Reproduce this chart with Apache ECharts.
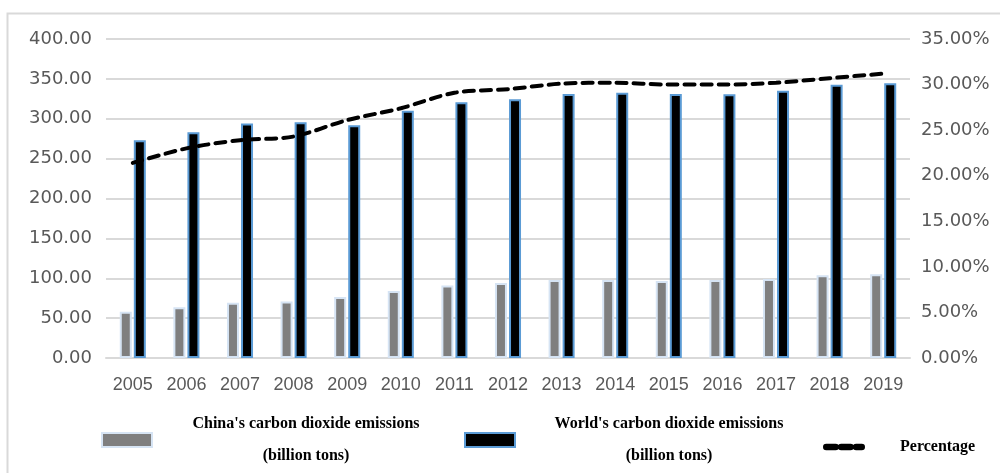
<!DOCTYPE html>
<html>
<head>
<meta charset="utf-8">
<script src="https://cdn.jsdelivr.net/npm/echarts@6/dist/echarts.min.js"></script>
<style>
  html, body { margin: 0; padding: 0; background: #ffffff; }
  #chart { width: 1000px; height: 473px; }
</style>
</head>
<body>
<div id="chart"></div>
<script>
// Carbon dioxide emissions: China vs. world, and China's share
const years = ['2005', '2006', '2007', '2008', '2009', '2010', '2011', '2012', '2013', '2014', '2015', '2016', '2017', '2018', '2019'];
const chinaEmissions = [58, 63.6, 69.4, 71, 76.5, 84, 91, 94, 97.8, 97.8, 96.5, 97.8, 99, 103.7, 105];
const worldEmissions = [273, 283, 294, 295.5, 292, 310, 320.6, 324.4, 331, 332.7, 331, 330.6, 335, 342.7, 344.4];
const sharePercent = [21.4, 23.0, 23.9, 24.3, 26.1, 27.4, 29.1, 29.5, 30.1, 30.2, 30.0, 30.0, 30.2, 30.7, 31.2];

const leftTicks = { min: 0, max: 400, interval: 50 };
const rightTicks = { min: 0, max: 35, interval: 5 };

const nameChina = "China's carbon dioxide emissions (billion tons)";
const nameWorld = "World's carbon dioxide emissions (billion tons)";
const nameShare = 'Percentage';

const labelColor = '#595959';
const gridColor = '#d9d9d9';
const legendFont = { fontFamily: '"Liberation Serif", "Times New Roman", serif', fontWeight: 'bold', fontSize: 16, color: '#000000' };

// three short dashes for the share legend key
const dashIcon = 'path://M2,0h10a2,2 0 0 1 0,7h-10a2,2 0 0 1 0,-7z M18,0h10a2,2 0 0 1 0,7h-10a2,2 0 0 1 0,-7z M34,0h6a2,2 0 0 1 0,7h-6a2,2 0 0 1 0,-7z';

const chart = echarts.init(document.getElementById('chart'), null, { renderer: 'canvas' });

function twoLineLegend(name) {
  const parts = name.split(' (');
  return '{t|' + parts[0] + '}\n{t|(' + parts[1] + '}';
}

chart.setOption({
  backgroundColor: '#ffffff',
  animation: false,
  graphic: [{
    type: 'rect',
    left: 5, top: 11,
    shape: { width: 1100, height: 600 },
    style: { fill: 'none', stroke: gridColor, lineWidth: 2 },
    silent: true, z: -10
  }],
  grid: { left: 106, right: 90, top: 39, bottom: 115, containLabel: false },
  legend: [
    {
      data: [nameChina], left: 96, top: 411, icon: 'rect', itemWidth: 50, itemHeight: 14,
      formatter: twoLineLegend,
      textStyle: { rich: { t: Object.assign({ lineHeight: 32, width: 298, align: 'center' }, legendFont) } }
    },
    {
      data: [nameWorld], left: 459, top: 411, icon: 'rect', itemWidth: 50, itemHeight: 14,
      formatter: twoLineLegend,
      textStyle: { rich: { t: Object.assign({ lineHeight: 32, width: 298, align: 'center' }, legendFont) } }
    },
    {
      data: [{ name: nameShare, icon: dashIcon }], left: 818, top: 434, itemWidth: 42, itemHeight: 7,
      formatter: '{p|' + nameShare + '}',
      itemStyle: { color: '#000000' },
      textStyle: { rich: { p: Object.assign({ padding: [0, 0, 0, 30] }, legendFont) } }
    }
  ],
  xAxis: {
    type: 'category',
    data: years,
    axisLine: { show: true, lineStyle: { color: gridColor, width: 2 } },
    axisTick: { show: false },
    axisLabel: {
      interval: 0, color: labelColor, fontSize: 18, margin: 18,
      fontFamily: '"Liberation Sans", Arial, sans-serif'
    }
  },
  yAxis: [
    {
      type: 'value', min: leftTicks.min, max: leftTicks.max, interval: leftTicks.interval,
      axisLine: { show: false }, axisTick: { show: false },
      splitLine: { lineStyle: { color: gridColor, width: 2 } },
      axisLabel: {
        color: labelColor, fontSize: 18, margin: 14, fontFamily: '"DejaVu Sans", sans-serif',
        formatter: v => v.toFixed(2)
      }
    },
    {
      type: 'value', min: rightTicks.min, max: rightTicks.max, interval: rightTicks.interval,
      axisLine: { show: false }, axisTick: { show: false },
      splitLine: { show: false },
      axisLabel: {
        color: labelColor, fontSize: 18, margin: 11, fontFamily: '"DejaVu Sans", sans-serif',
        formatter: v => v.toFixed(2) + '%'
      }
    }
  ],
  series: [
    {
      name: nameChina, type: 'bar', data: chinaEmissions, yAxisIndex: 0,
      barWidth: 12, barGap: '17%',
      itemStyle: { color: '#7f7f7f', borderColor: '#d6e4f4', borderWidth: 2 }
    },
    {
      name: nameWorld, type: 'bar', data: worldEmissions, yAxisIndex: 0,
      barWidth: 12, barGap: '17%',
      itemStyle: { color: '#000000', borderColor: '#5b9bd5', borderWidth: 2 }
    },
    {
      name: nameShare, type: 'line', data: sharePercent, yAxisIndex: 1,
      smooth: 0.3, showSymbol: false, symbol: 'none', z: 5,
      lineStyle: { color: '#000000', width: 4, type: [10, 7], cap: 'round' },
      itemStyle: { color: '#000000' }
    }
  ]
});
</script>
</body>
</html>
